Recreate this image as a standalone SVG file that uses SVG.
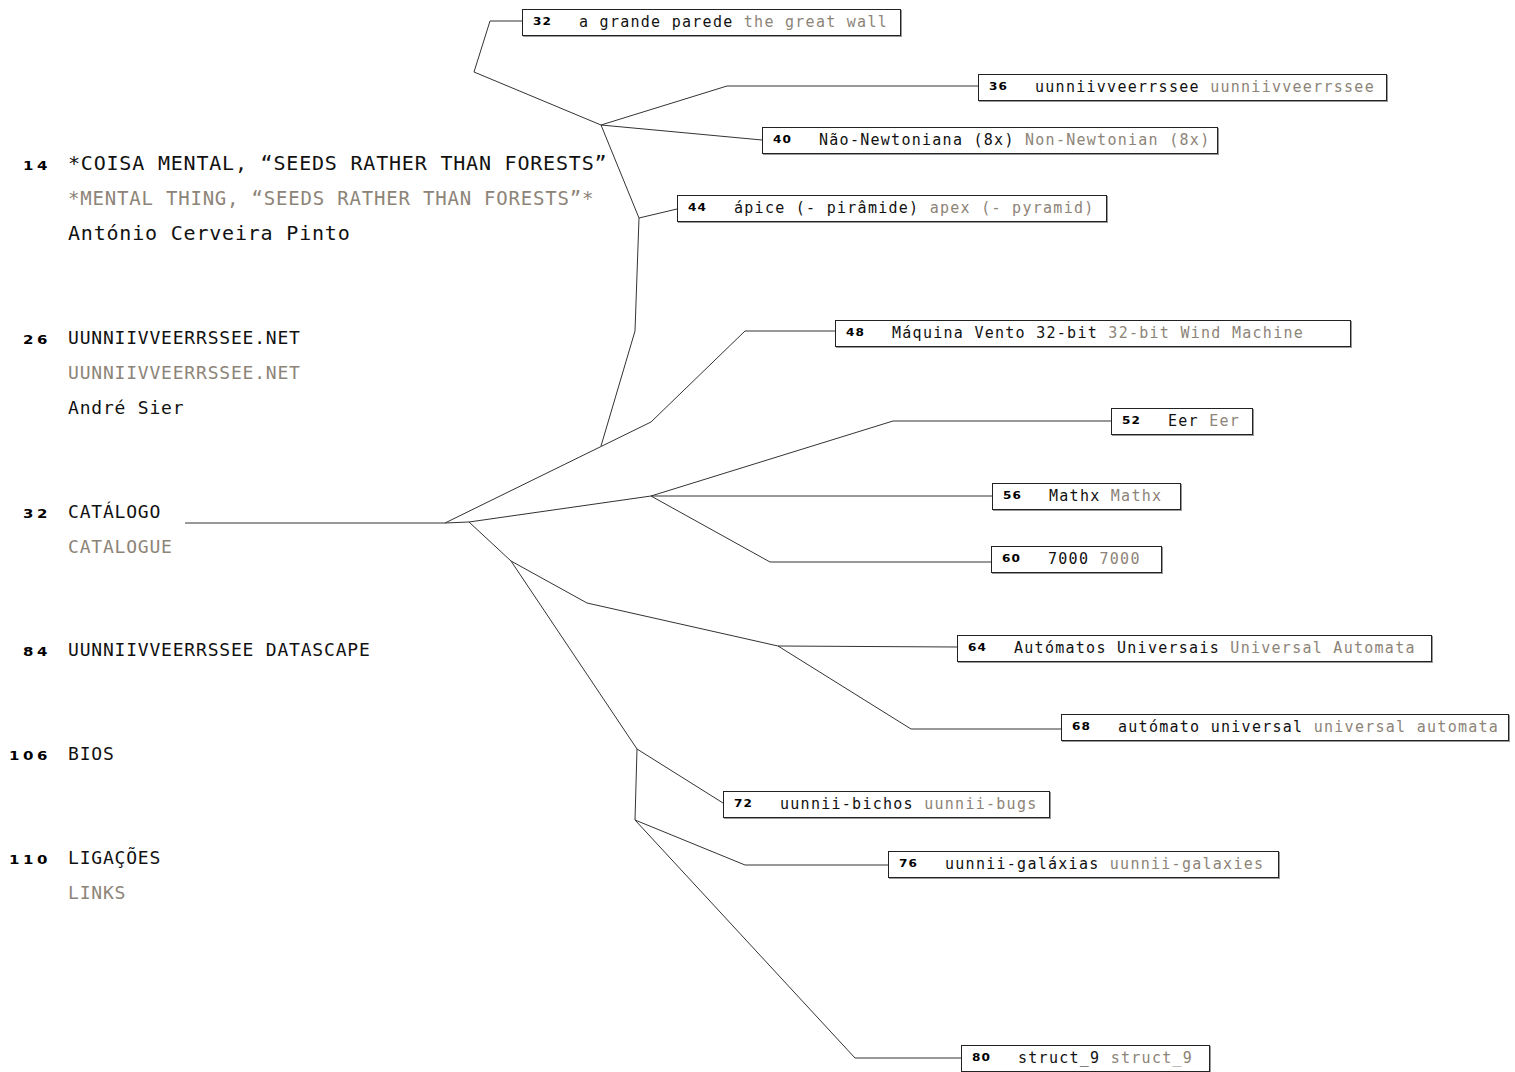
<svg xmlns="http://www.w3.org/2000/svg" width="1515" height="1072" viewBox="0 0 1515 1072">
<style>
.m{font-family:"DejaVu Sans Mono",monospace;font-size:18px;letter-spacing:0.8px;fill:#111}
.big{font-size:20px}
.mid{font-size:19px}
.g{fill:#8d8478}
.n{font-family:"DejaVu Sans",sans-serif;font-weight:900;font-size:12.5px;letter-spacing:3px;fill:#000}
.nn{font-family:"DejaVu Sans",sans-serif;font-weight:900;font-size:11px;letter-spacing:1px;fill:#000}
.t{font-family:"DejaVu Sans Mono",monospace;font-size:15px;letter-spacing:1.27px;fill:#111}
.box{fill:#fff;stroke:#222;stroke-width:1}
.sh{fill:none;stroke:#999;stroke-width:1}
.c{fill:none;stroke:#333;stroke-width:1}
</style>
<rect width="1515" height="1072" fill="#fff"/>
<g id="connectors">
<path class="c" d="M185,523 H445"/>
<path class="c" d="M445,523 L651,422 L745,331 L835,331"/>
<path class="c" d="M601,446 L635,331 L639,218 L601,125"/>
<path class="c" d="M639,218 L677,209"/>
<path class="c" d="M601,125 L474,72 L490,21 L522,21"/>
<path class="c" d="M601,125 L727,86 L978,86"/>
<path class="c" d="M601,125 L762,140"/>
<path class="c" d="M445,523 L469,522 L651,496 L992,496"/>
<path class="c" d="M651,496 L893,421 L1111,421"/>
<path class="c" d="M651,496 L770,562 L991,562"/>
<path class="c" d="M469,522 L511,561 L587,603 L778,646 L957,647"/>
<path class="c" d="M778,646 L911,729 L1061,729"/>
<path class="c" d="M511,561 L637,749 L635,820 L855,1058 L961,1058"/>
<path class="c" d="M637,749 L723,803"/>
<path class="c" d="M635,820 L745,865 L888,865"/>
</g>
<g id="menu-14">
<text class="n" transform="translate(23,170) scale(1.2,1)">14</text>
<text class="m big" x="68" y="170">*COISA MENTAL, “SEEDS RATHER THAN FORESTS”</text>
<text class="m mid g" x="68" y="205">*MENTAL THING, “SEEDS RATHER THAN FORESTS”*</text>
<text class="m big" x="68" y="240">António Cerveira Pinto</text>
</g>
<g id="menu-26">
<text class="n" transform="translate(23,344) scale(1.2,1)">26</text>
<text class="m" x="68" y="344">UUNNIIVVEERRSSEE.NET</text>
<text class="m g" x="68" y="379">UUNNIIVVEERRSSEE.NET</text>
<text class="m" x="68" y="414">André Sier</text>
</g>
<g id="menu-32">
<text class="n" transform="translate(23,518) scale(1.2,1)">32</text>
<text class="m" x="68" y="518">CATÁLOGO</text>
<text class="m g" x="68" y="553">CATALOGUE</text>
</g>
<g id="menu-84">
<text class="n" transform="translate(23,656) scale(1.2,1)">84</text>
<text class="m" x="68" y="656">UUNNIIVVEERRSSEE DATASCAPE</text>
</g>
<g id="menu-106">
<text class="n" transform="translate(9,760) scale(1.2,1)">106</text>
<text class="m" x="68" y="760">BIOS</text>
</g>
<g id="menu-110">
<text class="n" transform="translate(9,864) scale(1.2,1)">110</text>
<text class="m" x="68" y="864">LIGAÇÕES</text>
<text class="m g" x="68" y="899">LINKS</text>
</g>
<g id="node-32">
<rect class="sh" x="523.5" y="10.5" width="378" height="26"/>
<rect class="box" x="522.5" y="9.5" width="378" height="26"/>
<text class="nn" transform="translate(533,25) scale(1.1,1)">32</text>
<text class="t" x="579" y="27">a grande parede <tspan class="g">the great wall</tspan></text>
</g>
<g id="node-36">
<rect class="sh" x="979.5" y="75.5" width="408" height="26"/>
<rect class="box" x="978.5" y="74.5" width="408" height="26"/>
<text class="nn" transform="translate(989,90) scale(1.1,1)">36</text>
<text class="t" x="1035" y="92">uunniivveerrssee <tspan class="g">uunniivveerrssee</tspan></text>
</g>
<g id="node-40">
<rect class="sh" x="763.5" y="128.5" width="455" height="26"/>
<rect class="box" x="762.5" y="127.5" width="455" height="26"/>
<text class="nn" transform="translate(773,143) scale(1.1,1)">40</text>
<text class="t" x="819" y="145">Não-Newtoniana (8x) <tspan class="g">Non-Newtonian (8x)</tspan></text>
</g>
<g id="node-44">
<rect class="sh" x="678.5" y="196.5" width="429" height="26"/>
<rect class="box" x="677.5" y="195.5" width="429" height="26"/>
<text class="nn" transform="translate(688,211) scale(1.1,1)">44</text>
<text class="t" x="734" y="213">ápice (- pirâmide) <tspan class="g">apex (- pyramid)</tspan></text>
</g>
<g id="node-48">
<rect class="sh" x="836.5" y="321.5" width="515" height="26"/>
<rect class="box" x="835.5" y="320.5" width="515" height="26"/>
<text class="nn" transform="translate(846,336) scale(1.1,1)">48</text>
<text class="t" x="892" y="338">Máquina Vento 32-bit <tspan class="g">32-bit Wind Machine</tspan></text>
</g>
<g id="node-52">
<rect class="sh" x="1112.5" y="409.5" width="141" height="26"/>
<rect class="box" x="1111.5" y="408.5" width="141" height="26"/>
<text class="nn" transform="translate(1122,424) scale(1.1,1)">52</text>
<text class="t" x="1168" y="426">Eer <tspan class="g">Eer</tspan></text>
</g>
<g id="node-56">
<rect class="sh" x="993.5" y="484.5" width="188" height="26"/>
<rect class="box" x="992.5" y="483.5" width="188" height="26"/>
<text class="nn" transform="translate(1003,499) scale(1.1,1)">56</text>
<text class="t" x="1049" y="501">Mathx <tspan class="g">Mathx</tspan></text>
</g>
<g id="node-60">
<rect class="sh" x="992.5" y="547.5" width="170" height="26"/>
<rect class="box" x="991.5" y="546.5" width="170" height="26"/>
<text class="nn" transform="translate(1002,562) scale(1.1,1)">60</text>
<text class="t" x="1048" y="564">7000 <tspan class="g">7000</tspan></text>
</g>
<g id="node-64">
<rect class="sh" x="958.5" y="636.5" width="474" height="26"/>
<rect class="box" x="957.5" y="635.5" width="474" height="26"/>
<text class="nn" transform="translate(968,651) scale(1.1,1)">64</text>
<text class="t" x="1014" y="653">Autómatos Universais <tspan class="g">Universal Automata</tspan></text>
</g>
<g id="node-68">
<rect class="sh" x="1062.5" y="715.5" width="447" height="26"/>
<rect class="box" x="1061.5" y="714.5" width="447" height="26"/>
<text class="nn" transform="translate(1072,730) scale(1.1,1)">68</text>
<text class="t" x="1118" y="732">autómato universal <tspan class="g">universal automata</tspan></text>
</g>
<g id="node-72">
<rect class="sh" x="724.5" y="792.5" width="326" height="26"/>
<rect class="box" x="723.5" y="791.5" width="326" height="26"/>
<text class="nn" transform="translate(734,807) scale(1.1,1)">72</text>
<text class="t" x="780" y="809">uunnii-bichos <tspan class="g">uunnii-bugs</tspan></text>
</g>
<g id="node-76">
<rect class="sh" x="889.5" y="852.5" width="390" height="26"/>
<rect class="box" x="888.5" y="851.5" width="390" height="26"/>
<text class="nn" transform="translate(899,867) scale(1.1,1)">76</text>
<text class="t" x="945" y="869">uunnii-galáxias <tspan class="g">uunnii-galaxies</tspan></text>
</g>
<g id="node-80">
<rect class="sh" x="962.5" y="1046.5" width="248" height="26"/>
<rect class="box" x="961.5" y="1045.5" width="248" height="26"/>
<text class="nn" transform="translate(972,1061) scale(1.1,1)">80</text>
<text class="t" x="1018" y="1063">struct_9 <tspan class="g">struct_9</tspan></text>
</g>
</svg>
